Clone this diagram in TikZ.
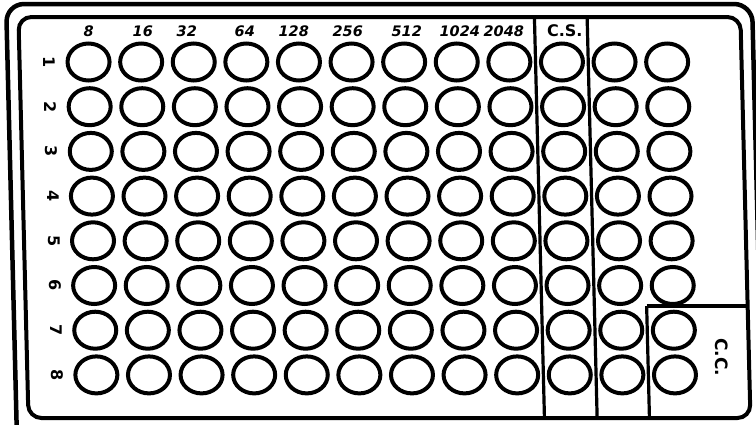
\documentclass[tikz,border=0pt]{standalone}
\usepackage{fontspec}
\setmainfont{DejaVu Sans}
\usetikzlibrary{shapes.geometric}
\tikzset{
  well/.style={draw, ellipse, line width=4pt, minimum width=42pt, minimum height=37pt, inner sep=0pt},
  hdr/.style={font=\fontsize{14.5}{14.5}\selectfont\bfseries\itshape, inner sep=0pt},
  rowlab/.style={font=\fontsize{16}{16}\selectfont\bfseries, rotate=-90, inner sep=0pt},
  frame/.style={line width=4.5pt},
  divider/.style={line width=3.2pt}
}
\begin{document}
\begin{tikzpicture}[x=1pt,y=-1pt]
\useasboundingbox (0,0) rectangle (756,424);
\begin{scope}
\clip (0,0) rectangle (756,424);
\begin{scope}[xslant=-0.025]
  % outer and inner frames
  \draw[frame, rounded corners=18pt] (6,4) rectangle (752,450);
  \draw[frame, line width=4pt, rounded corners=13pt] (18,17) rectangle (740,418);
  % dividers
  \draw[divider] (534,17) -- (534,418);
  \draw[divider] (586.7,17) -- (586.7,418);
  \draw[divider] (639,306) -- (639,418);
  \draw[divider] (639,306) -- (740,306);
  % wells
  \foreach \r in {1,...,8}{
    \foreach \c in {1,...,12}{
      \node[well] (w\r-\c) at ({87+(\c-1)*52.6},{62+(\r-1)*44.7}) {};
    }
    \node[rowlab] (r\r) at (48,{62+(\r-1)*44.7}) {\r};
  }
  % column headers
  \node[hdr] (h1) at (88,31) {8};
  \node[hdr] (h2) at (142,31) {16};
  \node[hdr] (h3) at (186,31) {32};
  \node[hdr] (h4) at (244,31) {64};
  \node[hdr] (h5) at (293,31) {128};
  \node[hdr] (h6) at (347,31) {256};
  \node[hdr] (h7) at (406,31) {512};
  \node[hdr] (h8) at (459,31) {1024};
  \node[hdr] (h9) at (503,31) {2048};
  \node[hdr, font=\fontsize{16}{16}\selectfont\bfseries] (h10) at (564,31) {C.S.};
  % C.C. label
  \node[rowlab, font=\fontsize{17}{17}\selectfont\bfseries] (cc) at (713,357) {C.C.};
\end{scope}
\end{scope}
\end{tikzpicture}
\end{document}
